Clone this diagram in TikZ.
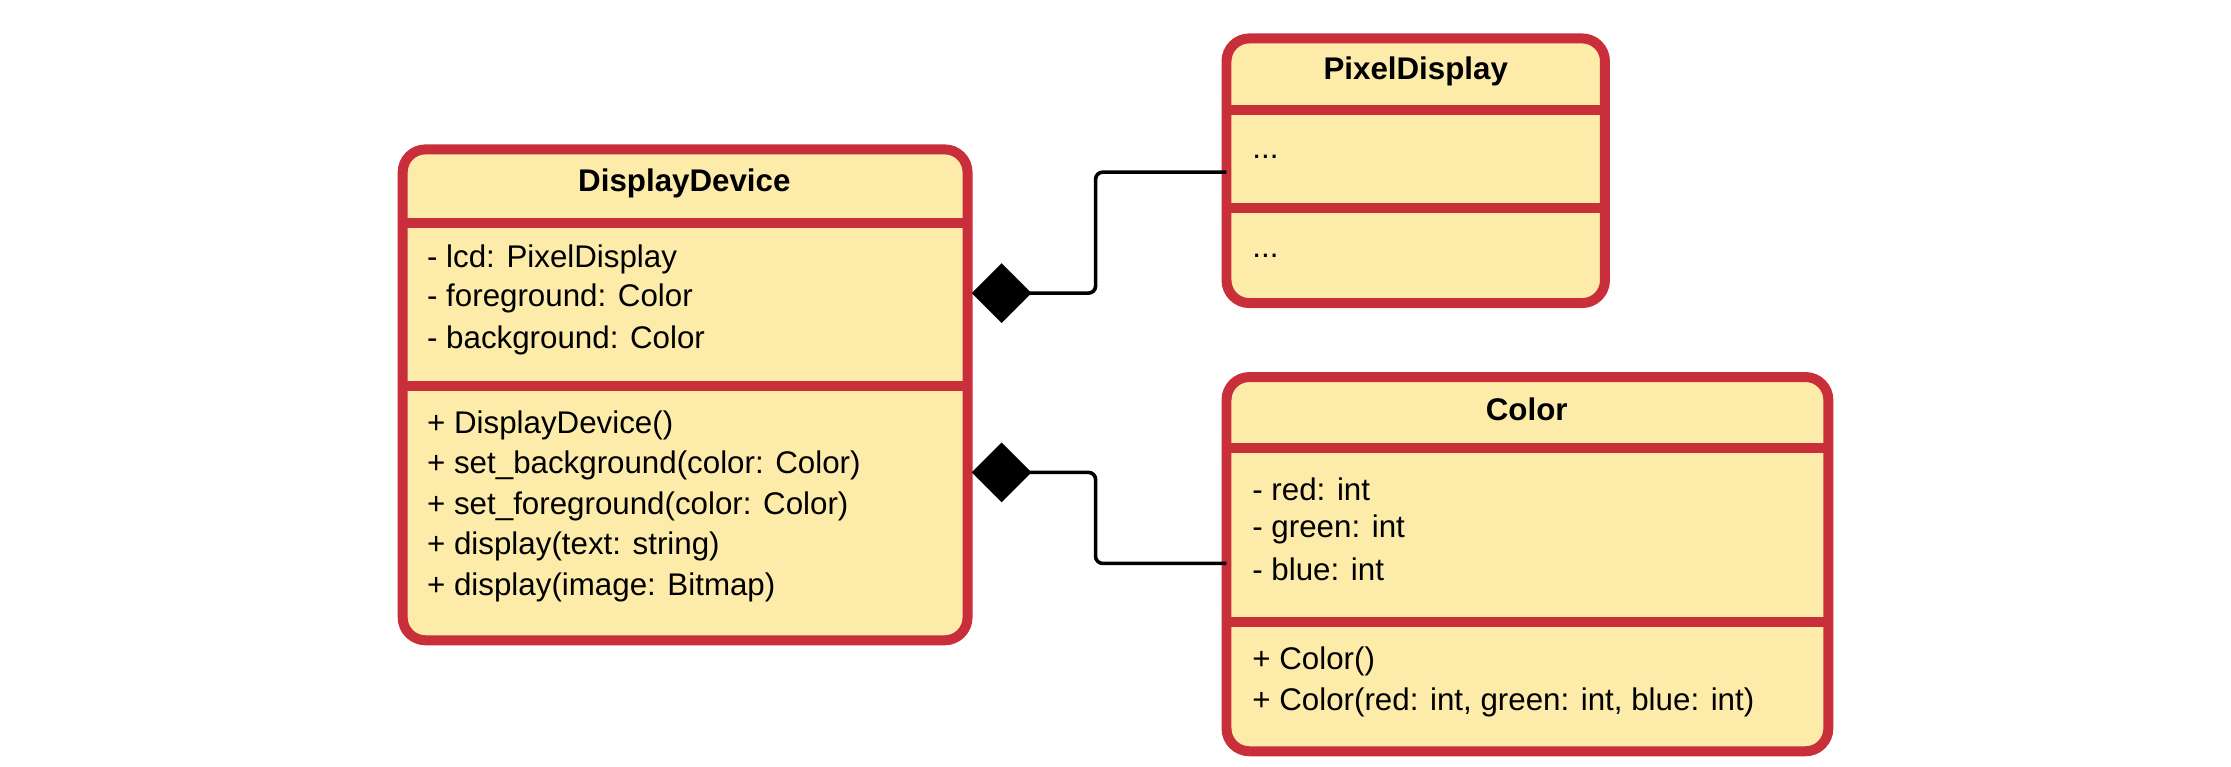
\documentclass[tikz,border=0pt]{standalone}
\usepackage{fontspec}
\setmainfont{Liberation Sans}
\usetikzlibrary{arrows.meta}
\definecolor{boxfill}{HTML}{FDEBAA}
\definecolor{boxline}{HTML}{C92E3B}
\begin{document}
\begin{tikzpicture}[x=1pt,y=-1pt,
  cls/.style={draw=boxline,fill=boxfill,line width=7pt,rounded corners=16pt},
  div/.style={draw=boxline,line width=7pt},
  txt/.style={anchor=west,inner sep=0pt,font=\fontsize{22}{29}\selectfont},
  ttl/.style={inner sep=0pt,font=\fontsize{22}{29}\selectfont\bfseries},
  con/.style={draw=black,line width=2.5pt,rounded corners=5pt,{Diamond[length=42pt,width=42pt]}-}]
\useasboundingbox (0,0) rectangle (1568,539);
% DisplayDevice
\draw[cls] (283,105) rectangle (680,450);
\draw[div] (283,157) -- (680,157);
\draw[div] (283,271) -- (680,271);
\node[ttl] (ddt) at (481,129) {DisplayDevice};
\node[txt] (dd1) at (300,182) {- lcd: PixelDisplay};
\node[txt] (dd2) at (300,210) {- foreground: Color};
\node[txt] (dd3) at (300,239) {- background: Color};
\node[txt] (dm1) at (300,299) {+ DisplayDevice()};
\node[txt] (dm2) at (300,327) {+ set\_background(color: Color)};
\node[txt] (dm3) at (300,356) {+ set\_foreground(color: Color)};
\node[txt] (dm4) at (300,384) {+ display(text: string)};
\node[txt] (dm5) at (300,413) {+ display(image: Bitmap)};
% PixelDisplay
\draw[cls] (862,27) rectangle (1128,213);
\draw[div] (862,77) -- (1128,77);
\draw[div] (862,146) -- (1128,146);
\node[ttl] (pdt) at (995,50) {PixelDisplay};
\node[txt] (pd1) at (880,110) {...};
\node[txt] (pd2) at (880,180) {...};
% Color
\draw[cls] (862,265) rectangle (1285,528);
\draw[div] (862,315) -- (1285,315);
\draw[div] (862,437) -- (1285,437);
\node[ttl] (ct) at (1073,288) {Color};
\node[txt] (c1) at (880,344) {- red: int};
\node[txt] (c2) at (880,372) {- green: int};
\node[txt] (c3) at (880,400) {- blue: int};
\node[txt] (cm1) at (880,465) {+ Color()};
\node[txt] (cm2) at (880,494) {+ Color(red: int, green: int, blue: int)};
% connectors
\coordinate (a1) at (683,206);
\coordinate (b1) at (862,121);
\coordinate (a2) at (683,332);
\coordinate (b2) at (862,396);
\draw[con] (a1) -- (770,206) -- (770,121) -- (b1);
\draw[con] (a2) -- (770,332) -- (770,396) -- (b2);
\end{tikzpicture}
\end{document}
